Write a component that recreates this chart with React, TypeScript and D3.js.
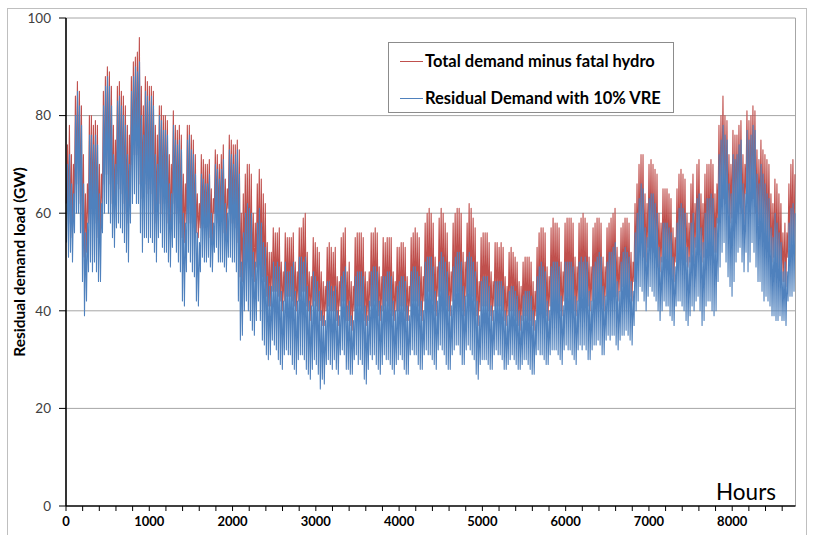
import React from "react";
import * as d3 from "d3";

// ---- Data (one value per day, 365 days) ----
// Daily peak / trough of "Total demand minus fatal hydro" (GW)
const redMax = [
  74,78,72,70,84,87,85, 82,72,64,66,80,80,78, 79,78,70,68,85,88,90, 89,86,78,75,86,87,85,
  84,82,78,76,88,91,92, 93,96,86,82,88,87,86, 86,85,78,76,82,82,80, 80,79,72,70,81,78,77,
  78,76,68,66,78,78,76, 75,72,64,62,72,71,70, 70,71,65,63,73,72,70, 72,74,67,65,76,75,74,
  74,75,73,60,64,68,70, 70,68,60,58,66,69,67, 64,62,54,52,52,57,56, 56,57,50,48,56,55,55,
  55,56,50,48,57,57,59, 60,52,48,47,55,54,53, 52,48,46,45,53,54,53, 52,53,47,46,55,56,57,
  48,50,46,45,55,56,56, 56,55,48,46,48,56,56, 57,56,49,47,55,54,55, 55,55,48,46,53,53,54,
  54,53,47,45,55,56,57, 56,55,49,47,58,60,61, 60,58,51,49,59,61,60, 58,56,50,48,58,60,61,
  61,60,52,50,58,62,61, 59,57,50,46,55,56,56, 56,54,48,46,54,54,53, 54,53,47,45,52,53,52,
  51,50,46,45,50,51,51, 51,50,46,44,53,56,57, 57,56,49,47,57,59,58, 58,57,50,48,58,59,59,
  59,58,51,49,58,59,60, 59,58,51,49,57,58,59, 59,58,51,49,57,58,59, 60,61,53,51,57,58,59,
  59,58,52,50,62,66,70, 72,72,64,62,70,71,70, 69,68,60,58,65,65,65, 64,63,57,55,65,68,69,
  68,67,60,58,66,68,62, 70,71,64,62,68,70,70, 71,70,64,66,78,80,84, 80,79,72,70,77,76,76,
  78,79,72,70,81,79,80, 82,81,73,71,75,73,72, 71,70,64,62,67,66,64, 62,56,58,56,66,70,71,
  68,
];
const redMin = [
  62,60,58,55,62,66,66, 62,56,51,52,58,60,60, 60,58,55,54,62,66,68, 68,66,62,60,64,66,65,
  64,62,60,58,66,70,72, 72,72,66,63,66,66,64, 65,64,60,58,62,62,60, 62,62,58,56,62,62,60,
  60,58,55,54,58,60,58, 58,57,56,55,57,58,57, 57,58,55,54,60,60,58, 58,60,56,55,61,60,58,
  58,57,54,47,46,50,52, 50,49,47,46,49,52,50, 47,46,43,41,41,44,44, 44,43,42,40,42,43,43,
  43,42,41,40,42,43,44, 44,41,40,38,41,42,41, 40,38,37,37,40,41,40, 40,40,38,37,41,42,42,
  38,38,37,36,40,41,41, 41,40,38,37,38,41,41, 42,41,39,38,40,41,42, 41,40,39,38,40,40,41,
  41,40,38,38,41,42,42, 42,41,39,38,42,43,44, 43,42,40,39,43,44,43, 42,41,40,39,42,43,44,
  44,42,40,39,43,44,43, 43,42,39,37,40,41,41, 41,40,39,38,41,41,41, 41,40,38,37,39,40,40,
  39,38,37,36,38,39,39, 38,38,37,36,39,40,41, 41,40,39,38,41,42,42, 42,41,40,39,42,43,43,
  42,41,40,39,42,43,43, 43,42,41,40,42,43,43, 44,43,41,40,43,44,44, 45,45,43,42,44,45,45,
  45,44,43,42,46,49,52, 55,54,51,50,53,54,53, 52,51,49,48,50,51,51, 50,49,47,46,50,52,52,
  52,51,50,49,50,52,50, 53,54,52,50,51,53,53, 54,53,52,52,58,62,64, 63,62,60,58,59,58,60,
  61,62,60,58,64,62,62, 64,63,60,58,59,57,56, 55,54,52,50,51,50,49, 48,46,46,45,51,53,54,
  52,
];
// Daily peak / trough of "Residual Demand with 10% VRE" (GW)
const blueMax = [
  70,72,66,64,80,85,82, 78,66,56,58,76,76,74, 76,74,64,62,82,86,88, 86,82,72,70,83,84,82,
  80,78,72,70,85,88,90, 89,91,80,76,85,84,83, 84,82,72,70,80,79,77, 77,76,66,64,78,75,74,
  75,73,60,58,75,76,73, 72,68,56,54,68,67,66, 66,68,60,58,70,69,67, 69,71,62,60,73,72,70,
  72,73,68,50,56,60,62, 61,60,52,50,58,61,58, 54,53,47,45,45,50,49, 50,49,44,42,50,48,48,
  49,50,44,42,51,51,50, 51,45,42,41,48,47,46, 44,40,39,38,46,46,45, 44,45,40,39,47,48,49,
  41,42,39,38,47,48,48, 48,47,41,39,42,48,49, 49,48,42,41,47,47,48, 48,47,42,40,45,46,47,
  47,46,41,39,48,49,49, 48,47,42,40,50,51,51, 51,49,44,42,50,52,51, 50,48,43,41,49,51,52,
  52,50,45,43,51,52,51, 50,48,42,39,46,47,47, 47,45,41,40,46,46,46, 46,45,40,39,44,45,45,
  44,43,40,39,43,44,44, 44,43,40,38,47,49,50, 49,48,42,40,49,50,50, 50,49,43,41,50,50,50,
  50,49,43,42,50,51,50, 51,50,44,42,49,50,51, 52,51,45,43,50,52,52, 53,54,46,44,50,52,53,
  52,51,46,44,56,60,63, 66,65,57,55,63,64,64, 62,60,53,51,58,58,58, 57,56,51,49,58,61,62,
  61,60,53,51,58,60,55, 63,64,57,54,60,63,63, 64,63,57,59,72,75,78, 76,75,66,64,72,71,72,
  74,75,66,64,77,75,76, 78,77,68,66,70,68,66, 64,63,57,55,60,58,56, 54,48,50,48,58,61,62,
  60,
];
const blueMin = [
  54,51,52,50,56,60,60, 56,46,39,42,48,50,48, 50,48,46,46,56,60,62, 60,58,55,53,57,58,57,
  56,54,52,50,58,62,64, 62,62,56,52,55,55,54, 55,54,52,50,55,56,53, 52,52,50,49,53,55,52,
  50,48,42,41,48,52,50, 48,47,42,41,48,51,50, 50,51,49,48,52,53,50, 50,50,49,48,51,51,50,
  50,48,42,34,35,40,42, 40,38,36,35,38,42,38, 34,33,31,30,31,34,33, 32,30,29,28,31,32,31,
  31,29,28,27,30,31,31, 30,28,27,26,28,30,29, 27,24,26,25,29,30,29, 28,30,28,27,31,32,31,
  28,28,27,27,30,31,29, 30,29,26,25,28,31,30, 31,29,28,27,29,31,30, 30,29,28,27,29,30,31,
  30,28,27,27,31,32,31, 31,29,28,28,31,32,31, 31,30,29,28,32,33,32, 31,29,28,28,31,32,33,
  33,31,29,29,32,33,32, 31,30,27,26,29,30,30, 30,29,28,28,31,32,31, 31,30,28,28,29,30,31,
  30,29,28,28,29,30,30, 29,28,27,27,31,32,31, 31,30,29,29,31,32,32, 32,31,30,29,32,33,32,
  32,31,30,29,32,33,32, 33,32,30,30,32,33,33, 34,33,31,31,34,35,34, 35,35,33,32,34,35,35,
  36,35,34,33,37,40,42, 45,44,42,40,43,45,44, 43,42,40,38,40,42,41, 41,39,38,37,41,42,42,
  41,40,38,37,39,41,40, 42,43,40,37,38,41,42, 42,40,39,40,46,49,52, 54,50,47,45,43,46,50,
  52,53,50,48,52,48,50, 54,52,49,46,46,44,42, 43,42,41,39,39,38,38, 39,38,38,37,42,43,43,
  44,
];

const xTicks = [0, 1000, 2000, 3000, 4000, 5000, 6000, 7000, 8000];
const yTicks = [0, 20, 40, 60, 80, 100];
const seriesNames = ["Total demand minus fatal hydro", "Residual Demand with 10% VRE"];
const seriesColors = ["#C0504D", "#4F81BD"];

export default function App() {
  const W = 815, H = 535;
  const x = d3.scaleLinear().domain([0, 8760]).range([66, 795.5]);
  const y = d3.scaleLinear().domain([0, 100]).range([506, 18]);
  const minorTicks = d3.range(0, 8761, 200);

  const build = (mins: number[], maxs: number[], tOff: number, pOff: number) => {
    const pts: [number, number][] = [];
    mins.forEach((v, d) => {
      pts.push([d * 24 + tOff, v]);
      pts.push([d * 24 + pOff, maxs[d]]);
    });
    return pts;
  };
  const line = d3.line<[number, number]>().x((d) => x(d[0])).y((d) => y(d[1]));
  const redPath = line(build(redMin, redMax, 4, 17)) || "";
  const bluePath = line(build(blueMin, blueMax, 6, 19)) || "";

  const font = "Lato, 'Open Sans', sans-serif";
  const x0 = x(0), x1 = x(8760), yB = y(0), yT = y(100);

  return (
    <svg width={W} height={H} style={{ position: "absolute", left: 0, top: 0, background: "#fff" }} fontFamily={font}>
      <rect x={7.5} y={8.5} width={799} height={540} fill="#fff" stroke="#bfbfbf" strokeWidth={1} />
      {/* gridlines */}
      {yTicks.filter((t) => t > 0).map((t) => (
        <line key={t} x1={x0} x2={x1} y1={y(t)} y2={y(t)} stroke="#a6a6a6" strokeWidth={1} />
      ))}
      <line x1={x1} x2={x1} y1={yT} y2={yB} stroke="#a6a6a6" strokeWidth={1} />
      {/* series */}
      <path d={redPath} fill="none" stroke={seriesColors[0]} strokeWidth={1.1} strokeLinejoin="round" />
      <path d={bluePath} fill="none" stroke={seriesColors[1]} strokeWidth={1.1} strokeLinejoin="round" />
      {/* axes */}
      <line x1={x0} x2={x0} y1={yT} y2={yB} stroke="#000" strokeWidth={1.6} />
      <line x1={x0} x2={x1} y1={yB} y2={yB} stroke="#000" strokeWidth={1.6} />
      {yTicks.map((t) => (
        <g key={t}>
          <line x1={x0 - 7} x2={x0} y1={y(t)} y2={y(t)} stroke="#000" strokeWidth={1} />
          <text x={x0 - 15} y={y(t)} dy="0.35em" textAnchor="end" fontSize={13.5} fill="#404040">{t}</text>
        </g>
      ))}
      {minorTicks.map((t) => (
        <line key={t} x1={x(t)} x2={x(t)} y1={yB} y2={yB + 5} stroke="#000" strokeWidth={1} />
      ))}
      {xTicks.map((t) => (
        <text key={t} x={x(t)} y={526} textAnchor="middle" fontSize={13} fontWeight="bold" fill="#000">{t}</text>
      ))}
      <text transform={`translate(25,262) rotate(-90)`} textAnchor="middle" fontSize={15.5} fontWeight="bold" fill="#000">
        Residual demand load (GW)
      </text>
      <text x={776} y={500} textAnchor="end" fontSize={22.5} fill="#000">Hours</text>
      {/* legend */}
      <rect x={388.5} y={42.5} width={285} height={70} fill="#fff" stroke="#8c8c8c" strokeWidth={1} />
      {seriesNames.map((n, i) => (
        <g key={n}>
          <line x1={400} x2={423} y1={61.5 + i * 37} y2={61.5 + i * 37} stroke={seriesColors[i]} strokeWidth={1} />
          <text x={425} y={61.5 + i * 37} dy="0.35em" fontSize={16.5} fontWeight="bold" fill="#000">{n}</text>
        </g>
      ))}
    </svg>
  );
}
